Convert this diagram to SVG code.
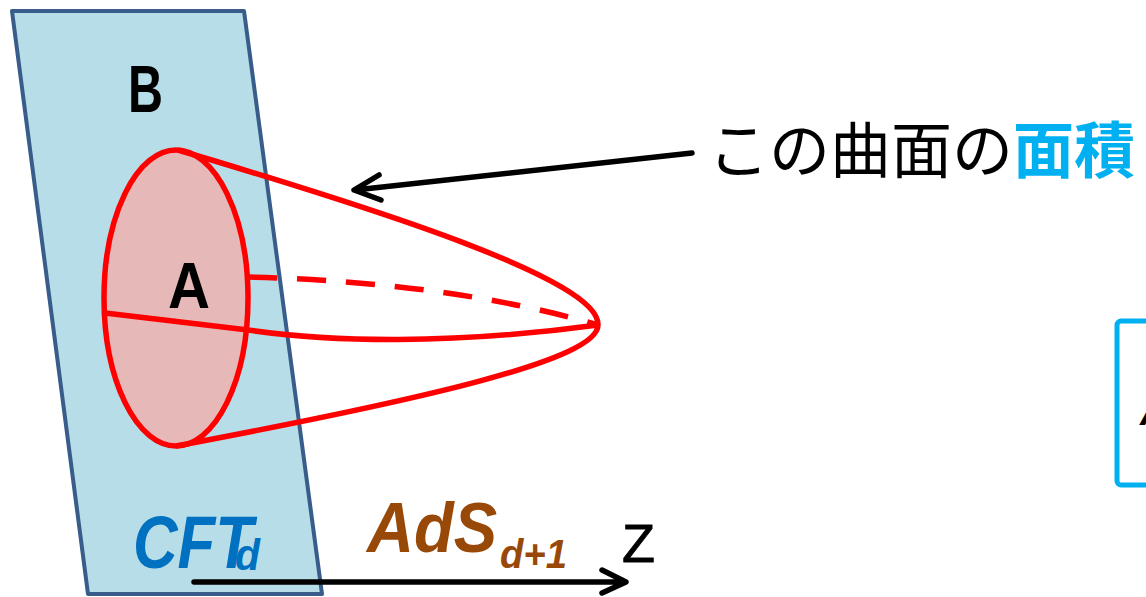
<svg xmlns="http://www.w3.org/2000/svg" width="1146" height="597" viewBox="0 0 1146 597">
<style>
.lat{font-family:"Liberation Sans","Open Sans",Arial,sans-serif;font-weight:bold}
.reg{font-family:"Liberation Sans",Arial,sans-serif;font-weight:normal;font-style:normal}
.it{font-style:italic}
.red{fill:none;stroke:#ff0000;stroke-width:5.5}
.blk{fill:none;stroke:#000;stroke-width:5.5;stroke-linecap:round;stroke-linejoin:round}
.jp{font-family:"Noto Sans CJK JP","Noto Sans CJK SC",sans-serif;font-size:61px}
</style>
<rect width="1146" height="597" fill="#fff"/>
<g id="boundary">
<polygon points="12,11 244,11 322,594 88,594" fill="#b7dde8" stroke="#385d8a" stroke-width="4" stroke-linejoin="round"/>
<text class="lat" x="128" y="112" font-size="67" textLength="35" lengthAdjust="spacingAndGlyphs">B</text>
<text class="lat it" x="133" y="568" font-size="74" fill="#0070c0" textLength="120" lengthAdjust="spacingAndGlyphs">CFT</text>
<text class="lat it" x="235" y="570" font-size="44" fill="#0070c0" textLength="25" lengthAdjust="spacingAndGlyphs">d</text>
</g>
<g id="regionA">
<ellipse cx="176" cy="298" rx="72" ry="148" fill="#e6b9b8" stroke="#ff0000" stroke-width="5.5"/>
<text class="lat" x="168" y="308" font-size="64" textLength="42" lengthAdjust="spacingAndGlyphs">A</text>
</g>
<g id="surface">
<path class="red" d="M178,150 C380,210 600,280 598,325 C598,360 420,400 176,446"/>
<path class="red" d="M105,313 L248,330 C330,342 450,345 598,325"/>
<path class="red" d="M248,277 Q450,282 598,325" stroke-dasharray="29 20"/>
</g>
<g id="label">
<text class="jp" x="708" y="173">この曲面の<tspan fill="#00b0f0" font-weight="bold">面積</tspan></text>
</g>
<g id="rightbox">
<rect x="1117" y="321" width="60" height="164" rx="4" fill="#fff" stroke="#00b0f0" stroke-width="5"/>
<text class="lat it" x="1140" y="425" font-size="40" fill="#000">A</text>
</g>
<g id="bulk">
<text class="lat it" x="367" y="552" font-size="70" fill="#984807" textLength="130" lengthAdjust="spacingAndGlyphs">AdS</text>
<text class="lat it" x="500" y="568" font-size="41" fill="#984807" textLength="67" lengthAdjust="spacingAndGlyphs">d+1</text>
<text class="reg" x="622" y="562" font-size="54" fill="#000" stroke="#000" stroke-width="0.8">Z</text>
</g>
<g id="connectors">
<path class="blk" d="M692,153 L355,190 M379,175 L354,190 L381,200"/>
<path class="blk" d="M194,582 L624,582 M602,570 L626,582 L602,593"/>
</g>
</svg>
